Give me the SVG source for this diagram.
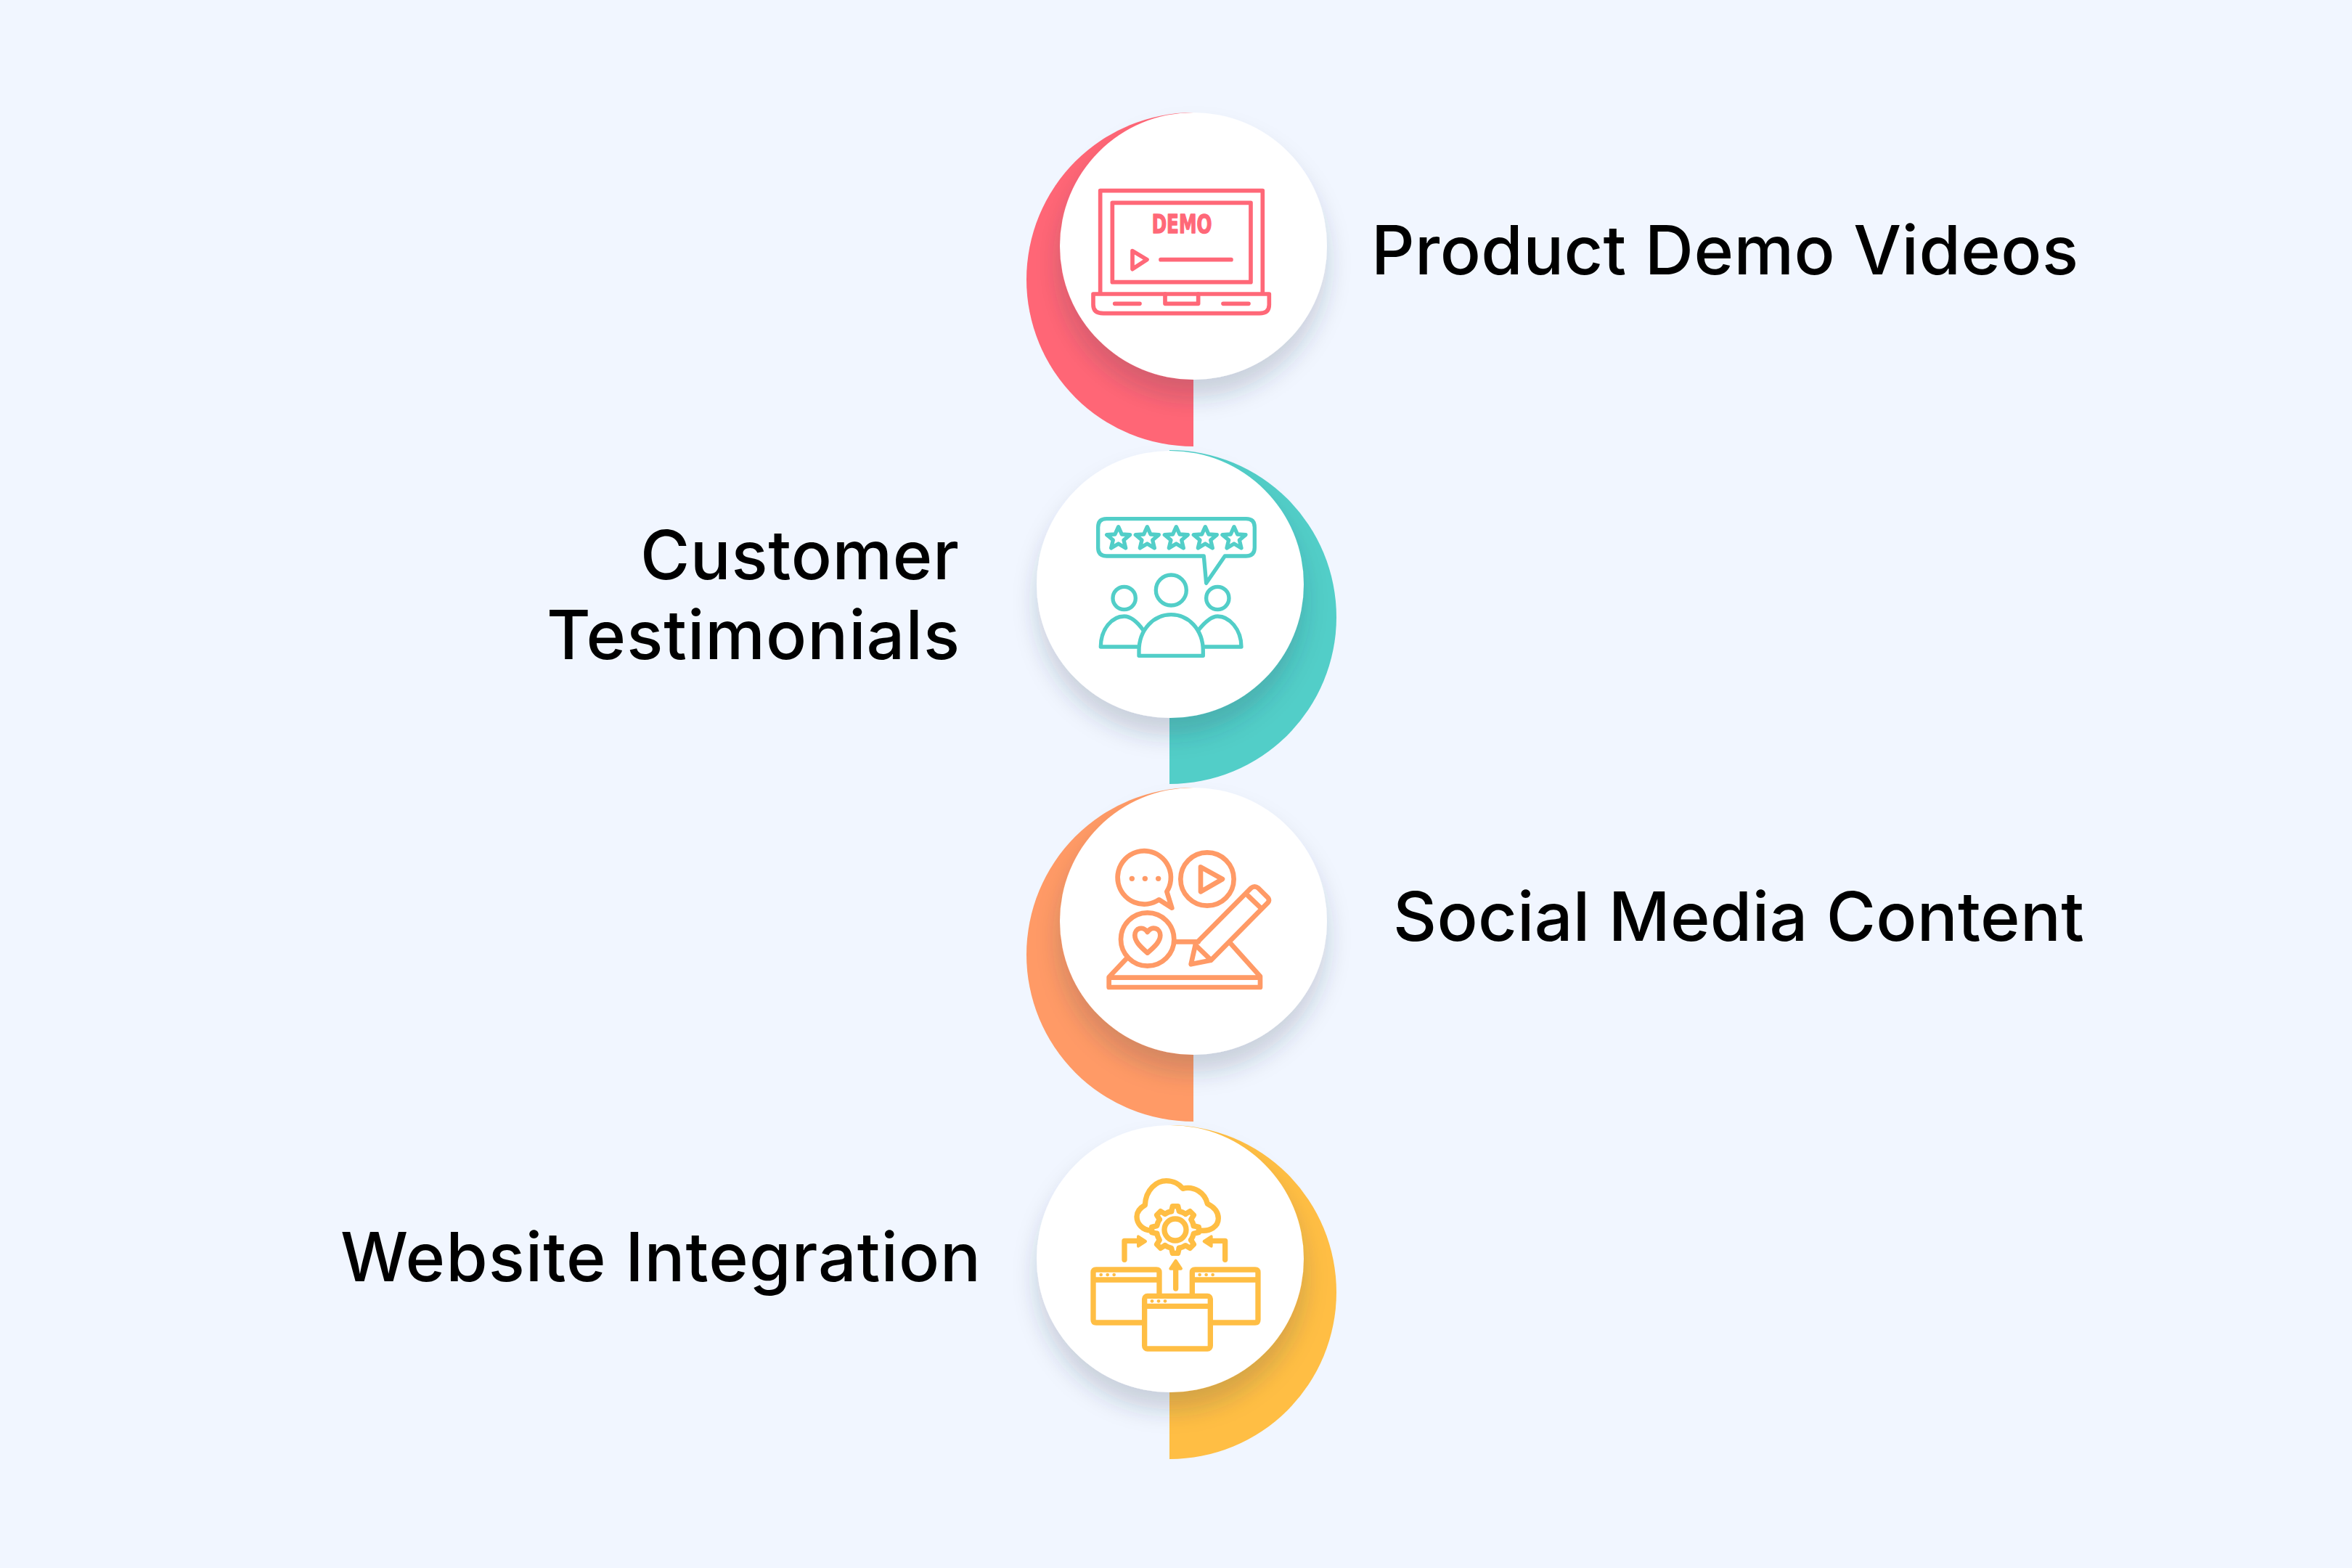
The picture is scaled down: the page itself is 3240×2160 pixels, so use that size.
<svg xmlns="http://www.w3.org/2000/svg" width="3240" height="2160" viewBox="0 0 3240 2160">
<style>
.disc{fill:#fff;filter:url(#sh)}
.lbl{font-family:Inter,"Noto Sans",sans-serif;font-size:93px;font-weight:450;fill:#000}
.ic{fill:none;stroke-linecap:round;stroke-linejoin:round}
.pink{stroke:#ff6878}.teal{stroke:#52cec8}.orange{stroke:#ff9a66}.yellow{stroke:#ffbe44}
</style>
<defs>
<filter id="sh" x="-30%" y="-30%" width="160%" height="170%"><feDropShadow dx="0" dy="24" stdDeviation="16" flood-color="#25364c" flood-opacity="0.2"/></filter>
<path id="star" d="M0 -46 L14 -15 L48 -13 L22 9 L30 42 L0 24 L-30 42 L-22 9 L-48 -13 L-14 -15 Z"/>
<path id="tooth" d="M-16 -76 L-11 -97 H11 L16 -76 A78 78 0 0 1 42.4 -65.1"/>
</defs>
<rect width="3240" height="2160" fill="#f1f6ff"/>
<g id="node-1">
<path d="M1644 155A230 230 0 0 0 1644 615Z" fill="#ff6676"/>
<circle class="disc" cx="1644" cy="339" r="184"/>
<g class="ic pink" stroke-width="17" transform="translate(1490 250) scale(.3333)">
<path d="M77 458V38H748V458"/><rect x="127" y="88" width="572" height="328"/>
<path d="M48 465H775V510Q775 545 735 545H90Q48 545 48 510Z"/><path d="M345 465V505H482V465M137 505H240M585 505H690"/>
<path d="M210 287L270 323L210 362ZM327 323H618"/>
<text x="414" y="213" font-family="'DejaVu Sans Condensed','DejaVu Sans',sans-serif" font-weight="700" font-size="104" text-anchor="middle" textLength="248" lengthAdjust="spacingAndGlyphs" fill="#ff6878" stroke-width="4">DEMO</text>
</g>
<text class="lbl" x="1889" y="378" textLength="974">Product Demo Videos</text>
</g>
<g id="node-2">
<path d="M1611 620A230 230 0 0 1 1611 1080Z" fill="#52cec8"/>
<circle class="disc" cx="1612" cy="805" r="184"/>
<g class="ic teal" stroke-width="16" transform="translate(1400 610) scale(.3333)">
<path d="M373 314H950Q985 314 985 349V433Q985 468 950 468H862L785 580L775 468H373Q338 468 338 433V349Q338 314 373 314Z"/>
<use href="#star" x="422" y="393"/><use href="#star" x="541" y="393"/><use href="#star" x="661" y="393"/><use href="#star" x="781" y="393"/><use href="#star" x="900" y="393"/>
<circle cx="640" cy="609" r="63"/><circle cx="446" cy="642" r="47"/><circle cx="832" cy="642" r="47"/>
<path d="M507 880V860C507 770 570 710 640 710C710 710 772 770 772 860V880Z"/>
<path d="M525 775C500 740 475 717 446 717C395 717 349 770 349 843H505M752 775C780 740 805 717 832 717C880 717 930 770 930 843H775"/>
</g>
<text class="lbl" x="882" y="798" textLength="439">Customer</text>
<text class="lbl" x="753" y="908" textLength="569">Testimonials</text>
</g>
<g id="node-3">
<path d="M1644 1085A230 230 0 0 0 1644 1545Z" fill="#ff9a66"/>
<circle class="disc" cx="1644" cy="1269" r="184"/>
<g class="ic orange" stroke-width="20" transform="translate(1490 1160) scale(.3333)">
<path d="M320 238A110 110 0 1 1 352 205L373 272Z"/>
<circle cx="519" cy="153" r="110"/><path d="M492 103L582 153L492 205Z"/>
<circle cx="272" cy="402" r="110"/>
<path d="M272 458C240 430 220 410 220 385C220 355 255 345 272 372C290 345 325 355 325 385C325 410 305 430 272 458Z"/>
<path d="M385 412H482"/>
<path d="M482 410L700 190Q715 178 730 190L770 230Q778 240 770 250L535 488L452 505L470 425M470 425L535 488M688 222L740 272"/>
<path d="M185 482L113 558V600H738V555L612 415M113 560H738"/>
<g fill="#ff9a66" stroke="none"><circle cx="208" cy="151" r="11"/><circle cx="262" cy="151" r="11"/><circle cx="317" cy="151" r="11"/></g>
</g>
<text class="lbl" x="1919" y="1296" textLength="952">Social Media Content</text>
</g>
<g id="node-4">
<path d="M1611 1550A230 230 0 0 1 1611 2010Z" fill="#ffbe44"/>
<circle class="disc" cx="1612" cy="1734" r="184"/>
<g class="ic yellow" stroke-width="22" transform="translate(1490 1610) scale(.3333)">
<path d="M250 636H60Q48 636 48 624V429Q48 417 60 417H309Q321 417 321 429V515M48 459H321"/>
<path d="M542 636H717Q729 636 729 624V429Q729 417 717 417H469Q457 417 457 429V515M457 459H729"/>
<rect x="260" y="526" width="272" height="218" rx="12"/><path d="M260 568H532"/>
<path d="M389 495V410M177 376V298H235M593 376V298H535"/>
<path d="M288 255C250 255 228 225 228 198C228 175 245 160 262 150C265 85 310 50 350 50C380 50 405 65 418 82C465 70 510 100 520 145C550 160 565 180 565 205C565 240 530 260 492 255"/>
<circle cx="387" cy="252" r="45"/>
<g transform="translate(387 252)"><use href="#tooth"/><use href="#tooth" transform="rotate(45)"/><use href="#tooth" transform="rotate(90)"/><use href="#tooth" transform="rotate(135)"/><use href="#tooth" transform="rotate(180)"/><use href="#tooth" transform="rotate(225)"/><use href="#tooth" transform="rotate(270)"/><use href="#tooth" transform="rotate(315)"/></g>
<g fill="#ffbe44" stroke-width="12"><path d="M389 380L411 413H367Z"/><path d="M264 300L234 280V320Z"/><path d="M506 300L536 280V320Z"/></g>
<g fill="#ffbe44" stroke="none"><circle cx="80" cy="438" r="7"/><circle cx="107" cy="438" r="7"/><circle cx="134" cy="438" r="7"/><circle cx="488" cy="438" r="7"/><circle cx="515" cy="438" r="7"/><circle cx="542" cy="438" r="7"/><circle cx="291" cy="547" r="7"/><circle cx="318" cy="547" r="7"/><circle cx="345" cy="547" r="7"/></g>
</g>
<text class="lbl" x="469" y="1765" textLength="882">Website Integration</text>
</g>
</svg>
